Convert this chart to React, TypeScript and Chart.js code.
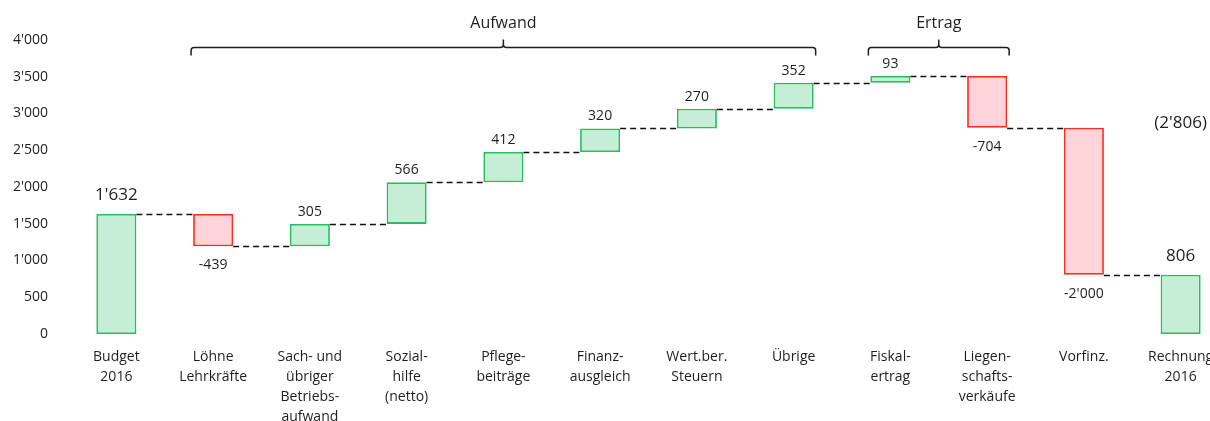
import React, { useEffect, useRef } from "react";
import { Chart, registerables } from "chart.js";

Chart.register(...registerables);

// ---- data ----
const categories: string[][] = [
  ["Budget", "2016"],
  ["Löhne", "Lehrkräfte"],
  ["Sach- und", "übriger", "Betriebs-", "aufwand"],
  ["Sozial-", "hilfe", "(netto)"],
  ["Pflege-", "beiträge"],
  ["Finanz-", "ausgleich"],
  ["Wert.ber.", "Steuern"],
  ["Übrige"],
  ["Fiskal-", "ertrag"],
  ["Liegen-", "schafts-", "verkäufe"],
  ["Vorfinz."],
  ["Rechnung", "2016"],
];
const startTotal = 1632;
const deltas = [-439, 305, 566, 412, 320, 270, 352, 93, -704, -2000];
const endTotal = 806;
const yTickValues = [0, 500, 1000, 1500, 2000, 2500, 3000, 3500, 4000];
const groupLabels = ["Aufwand", "Ertrag"];
const groupFrom = [1, 8];
const groupTo = [7, 9];
const bracketLevel = 3910;
const sideNoteText = "(2'806)";
const sideNoteValue = 2806;

// ---- derived ----
const floating: [number, number][] = [];
const kinds: string[] = [];
floating.push([0, startTotal]);
kinds.push("total");
let run = startTotal;
for (const d of deltas) {
  floating.push([run, run + d]);
  kinds.push(d >= 0 ? "up" : "down");
  run += d;
}
floating.push([0, endTotal]);
kinds.push("total");
const labelValues = [startTotal, ...deltas, endTotal];

const fmt = (n: number) => {
  const s = Math.abs(Math.round(n)).toString().replace(/\B(?=(\d{3})+(?!\d))/g, "'");
  return (n < 0 ? "-" : "") + s;
};

const GREEN_FILL = "rgb(198,238,214)";
const GREEN_LINE = "rgb(38,190,96)";
const RED_FILL = "rgb(255,211,218)";
const RED_LINE = "rgb(255,45,30)";
const FONT = "'Open Sans', sans-serif";
const TEXT = "#1e1e1e";

const overlayPlugin = {
  id: "waterfallOverlay",
  afterDatasetsDraw(chart: any) {
    const ctx = chart.ctx as CanvasRenderingContext2D;
    const meta = chart.getDatasetMeta(0);
    const els = meta.data as any[];
    const y = chart.scales.y;
    ctx.save();
    // connectors
    ctx.strokeStyle = "#111";
    ctx.lineWidth = 1.5;
    ctx.setLineDash([6, 4]);
    for (let i = 0; i < els.length - 1; i++) {
      const a = els[i];
      const b = els[i + 1];
      const py = Math.round(y.getPixelForValue(floating[i][1])) + 0.5;
      ctx.beginPath();
      ctx.moveTo(a.x + a.width / 2, py);
      ctx.lineTo(b.x - b.width / 2, py);
      ctx.stroke();
    }
    ctx.setLineDash([]);
    // value labels
    ctx.fillStyle = TEXT;
    ctx.textAlign = "center";
    ctx.textBaseline = "middle";
    els.forEach((el, i) => {
      const kind = kinds[i];
      const top = Math.min(el.y, el.base);
      const bottom = Math.max(el.y, el.base);
      if (kind === "total") {
        ctx.font = `17px ${FONT}`;
        ctx.fillText(fmt(labelValues[i]), el.x, top - 19);
      } else if (kind === "up") {
        ctx.font = `14px ${FONT}`;
        ctx.fillText(fmt(labelValues[i]), el.x, top - 12);
      } else {
        ctx.font = `14px ${FONT}`;
        ctx.fillText(fmt(labelValues[i]), el.x, bottom + 19);
      }
    });
    // side note
    const last = els[els.length - 1];
    ctx.font = `17px ${FONT}`;
    ctx.fillText(sideNoteText, last.x, y.getPixelForValue(sideNoteValue) - 5);
    // brackets
    ctx.strokeStyle = "#1e1e1e";
    ctx.lineWidth = 1.5;
    const by = Math.round(y.getPixelForValue(bracketLevel)) + 0.5;
    groupLabels.forEach((lab, g) => {
      const a = els[groupFrom[g]];
      const b = els[groupTo[g]];
      const x1 = a.x - a.width / 2 - 2;
      const x2 = b.x + b.width / 2 + 2;
      const xm = (x1 + x2) / 2;
      const r = 3;
      ctx.beginPath();
      ctx.moveTo(x1, by + 8);
      ctx.lineTo(x1, by + r);
      ctx.quadraticCurveTo(x1, by, x1 + r, by);
      ctx.lineTo(xm - r, by);
      ctx.quadraticCurveTo(xm, by, xm, by - r);
      ctx.lineTo(xm, by - 8);
      ctx.moveTo(xm, by - r);
      ctx.quadraticCurveTo(xm, by, xm + r, by);
      ctx.lineTo(x2 - r, by);
      ctx.quadraticCurveTo(x2, by, x2, by + r);
      ctx.lineTo(x2, by + 8);
      ctx.stroke();
      ctx.font = `16px ${FONT}`;
      ctx.fillStyle = TEXT;
      ctx.fillText(lab, xm, by - 24);
    });
    ctx.restore();
  },
};

export default function App() {
  const ref = useRef<HTMLCanvasElement | null>(null);
  useEffect(() => {
    if (!ref.current) return;
    const chart = new Chart(ref.current, {
      type: "bar",
      data: {
        labels: categories as any,
        datasets: [
          {
            data: floating as any,
            backgroundColor: kinds.map((k) => (k === "down" ? RED_FILL : GREEN_FILL)),
            borderColor: kinds.map((k) => (k === "down" ? RED_LINE : GREEN_LINE)),
            borderWidth: 1.8,
            borderSkipped: false,
            barPercentage: 1,
            categoryPercentage: 0.414,
          },
        ],
      },
      options: {
        responsive: false,
        animation: false,
        devicePixelRatio: 1,
        layout: { padding: { top: 40, left: 0, right: 0, bottom: 0 } },
        plugins: { legend: { display: false }, tooltip: { enabled: false } },
        scales: {
          x: {
            grid: { display: false, drawTicks: false },
            border: { display: false },
            ticks: {
              padding: 13,
              color: TEXT,
              maxRotation: 0,
              autoSkip: false,
              font: { family: FONT, size: 14, lineHeight: "20px" as any },
            },
            afterFit: (s: any) => {
              s.height = 87;
            },
          },
          y: {
            min: 0,
            max: 4000,
            grid: { display: false, drawTicks: false },
            border: { display: false },
            afterBuildTicks: (s: any) => {
              s.ticks = yTickValues.map((v) => ({ value: v }));
            },
            ticks: {
              padding: 20,
              color: TEXT,
              font: { family: FONT, size: 14 },
              callback: (v: any) => fmt(Number(v)),
            },
            afterFit: (s: any) => {
              s.width = 68;
            },
          },
        },
      },
      plugins: [overlayPlugin],
    });
    return () => chart.destroy();
  }, []);
  return (
    <div style={{ position: "fixed", left: 0, top: 0, width: 1229, height: 421, background: "#fff" }}>
      <canvas ref={ref} width={1229} height={421} style={{ width: 1229, height: 421, display: "block" }} />
    </div>
  );
}
